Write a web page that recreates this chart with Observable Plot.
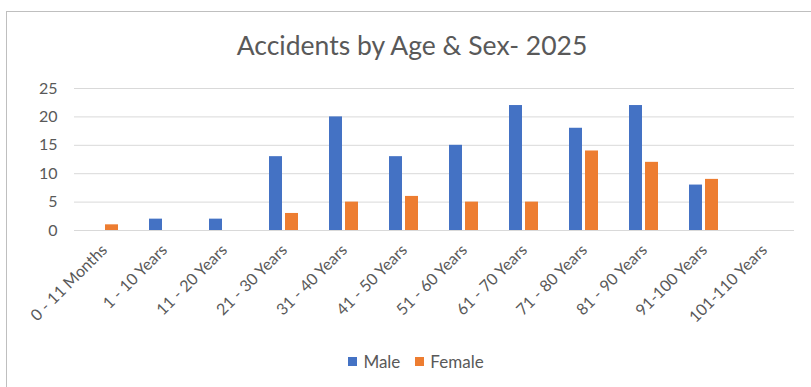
<!DOCTYPE html>
<html>
<head>
<meta charset="utf-8">
<script src="https://cdn.jsdelivr.net/npm/d3@7"></script>
<script src="https://cdn.jsdelivr.net/npm/@observablehq/plot@0.6"></script>
<style>
  html, body { margin: 0; padding: 0; background: #fff; }
  #chart { position: relative; width: 811px; height: 387px; overflow: hidden; font-family: Lato, "Open Sans", sans-serif; }
  #frame { position: absolute; left: 6px; top: 11px; width: 900px; height: 500px; border-left: 1px solid #bfbfbf; border-top: 1px solid #bfbfbf; }
  #title { position: absolute; left: 12px; width: 800px; top: 32px; text-align: center; font-size: 26.5px; line-height: 1; color: #595959; }
  #plot { position: absolute; left: 0; top: 0; }
  #legend { position: absolute; left: 0; width: 832px; top: 353px; display: flex; justify-content: center; align-items: center; gap: 15px; font-size: 17px; line-height: 1; color: #595959; }
  #legend .item { display: flex; align-items: center; gap: 6px; }
  #legend .sw { width: 9px; height: 9px; display: inline-block; }
</style>
</head>
<body>
<div id="chart">
  <div id="frame"></div>
  <div id="title">Accidents by Age &amp; Sex- 2025</div>
  <div id="plot"></div>
  <div id="legend"></div>
</div>
<script>
// Age groups along the x axis
const ageGroups = [
  "0 - 11 Months", "1 - 10 Years", "11 - 20 Years", "21 - 30 Years",
  "31 - 40 Years", "41 - 50 Years", "51 - 60 Years", "61 - 70 Years",
  "71 - 80 Years", "81 - 90 Years", "91-100 Years", "101-110 Years"
];
// Accident counts per age group
const male   = [0, 2, 2, 13, 20, 13, 15, 22, 18, 22, 8, 0];
const female = [1, 0, 0, 3, 5, 6, 5, 5, 14, 12, 9, 0];
const sexes = ["Male", "Female"];
const sexColors = ["#4472C4", "#ED7D31"];
const yTicks = [0, 5, 10, 15, 20, 25];

const rows = ageGroups.flatMap((age, i) => [
  {age, sex: "Male", value: male[i]},
  {age, sex: "Female", value: female[i]}
]);

const chart = Plot.plot({
  width: 811,
  height: 330,
  marginLeft: 70,
  marginRight: 14,
  marginTop: 88,
  marginBottom: 100,
  style: {fontFamily: "Lato, 'Open Sans', sans-serif", fontSize: "16px", color: "#595959", background: "transparent"},
  fx: {domain: ageGroups, padding: 0, label: null, tickRotate: -45, tickSize: 0, tickPadding: 17},
  x: {domain: sexes, paddingInner: 0.176, paddingOuter: 0.87, axis: null},
  y: {domain: [0, 25], ticks: yTicks, label: null, tickSize: 0, tickPadding: 17},
  color: {domain: sexes, range: sexColors},
  marks: [
    Plot.gridY(yTicks, {stroke: "#d9d9d9", strokeOpacity: 1, strokeWidth: 1}),
    Plot.barY(rows, {fx: "age", x: "sex", y: "value", fill: "sex"})
  ]
});
document.getElementById("plot").appendChild(chart);

const legend = document.getElementById("legend");
sexes.forEach((s, i) => {
  const item = document.createElement("span");
  item.className = "item";
  const sw = document.createElement("span");
  sw.className = "sw";
  sw.style.background = sexColors[i];
  const label = document.createElement("span");
  label.textContent = s;
  item.appendChild(sw);
  item.appendChild(label);
  legend.appendChild(item);
});
</script>
</body>
</html>
